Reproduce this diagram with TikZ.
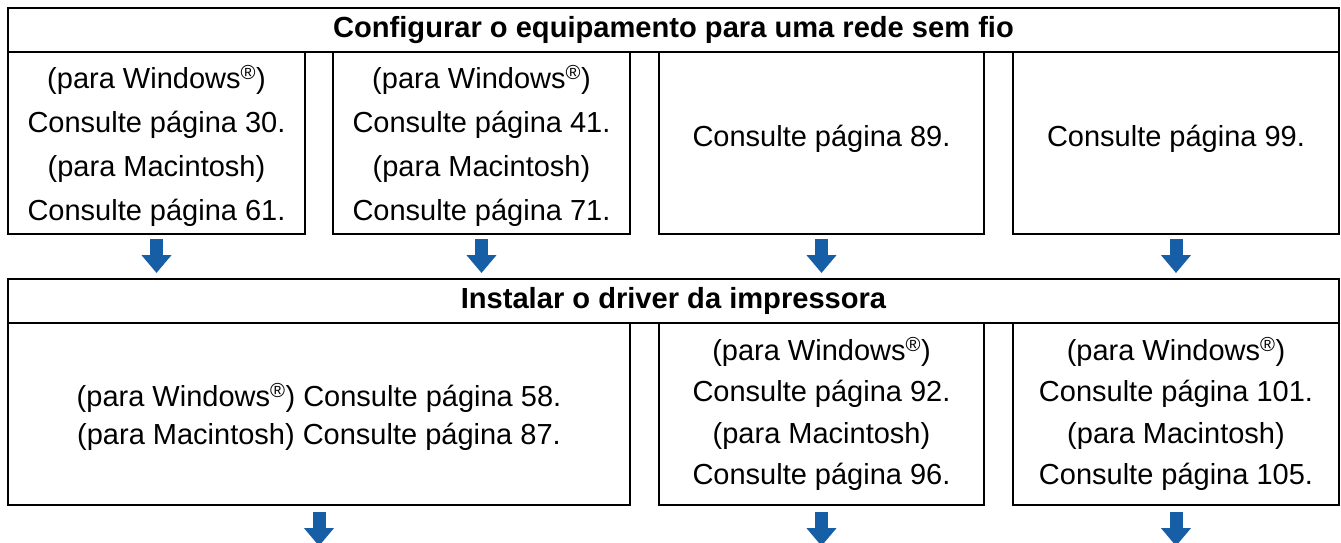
\documentclass[tikz,border=0pt]{standalone}
\usepackage{fontspec}
\setmainfont{Liberation Sans}
\usetikzlibrary{arrows.meta}
\definecolor{arrowblue}{RGB}{22,94,166}
\begin{document}
\begin{tikzpicture}[x=1pt,y=-1pt,
  box/.style={draw, line width=2.6pt, inner sep=0pt, outer sep=0pt, anchor=north west},
  head/.style={box, align=center, font=\bfseries\fontsize{29.1}{34}\selectfont},
  txt/.style={inner sep=0pt, align=center, font=\fontsize{29}{#1}\selectfont},
  txt/.default=44,
  flow/.style={draw=arrowblue, line width=13pt,
    -{Triangle[width=29pt,length=18pt]}}]
\fill[white] (0,0) rectangle (1341,542);
\useasboundingbox (0,0) rectangle (1341,542);
% headers
\node[head, minimum width=1331pt, minimum height=44pt] (h1) at (8,8)
  {Configurar o equipamento para uma rede sem fio};
\node[head, minimum width=1331pt, minimum height=44pt] (h2) at (8,279)
  {Instalar o driver da impressora};
% row 1 boxes
\node[box, minimum width=297pt, minimum height=182pt] (b1) at (8,52) {};
\node[box, minimum width=297pt, minimum height=182pt] (b2) at (333,52) {};
\node[box, minimum width=325pt, minimum height=182pt] (b3) at (659,52) {};
\node[box, minimum width=326pt, minimum height=182pt] (b4) at (1013,52) {};
% row 1 texts
\node[txt] (b1t) at ([yshift=-3pt]b1.center)
  {(para Windows\textsuperscript{®})\\Consulte página 30.\\(para Macintosh)\\Consulte página 61.};
\node[txt] (b2t) at ([yshift=-3pt]b2.center)
  {(para Windows\textsuperscript{®})\\Consulte página 41.\\(para Macintosh)\\Consulte página 71.};
\node[txt] (b3t) at ([yshift=4pt]b3.center) {Consulte página 89.};
\node[txt] (b4t) at ([yshift=4pt]b4.center) {Consulte página 99.};
% row 2 boxes
\node[box, minimum width=622pt, minimum height=182pt] (c1) at (8,323) {};
\node[box, minimum width=325pt, minimum height=182pt] (c2) at (659,323) {};
\node[box, minimum width=326pt, minimum height=182pt] (c3) at (1013,323) {};
% row 2 texts
\node[txt=38.5] (c1t) at ([yshift=-3pt]c1.center)
  {(para Windows\textsuperscript{®}) Consulte página 58.\\(para Macintosh) Consulte página 87.};
\node[txt=41.5] (c2t) at (c2.center)
  {(para Windows\textsuperscript{®})\\Consulte página 92.\\(para Macintosh)\\Consulte página 96.};
\node[txt=41.5] (c3t) at (c3.center)
  {(para Windows\textsuperscript{®})\\Consulte página 101.\\(para Macintosh)\\Consulte página 105.};
% arrows row 1 -> header 2
\foreach \b in {b1,b2,b3,b4}
  \draw[flow, shorten <=5pt, shorten >=6pt] (\b.south) -- (\b.south |- h2.north);
% arrows below row 2
\foreach \c in {c1,c2,c3} {
  \path (\c.south) ++(0,41) coordinate (\c-end);
  \draw[flow, shorten <=7pt] (\c.south) -- (\c-end);
}
\end{tikzpicture}
\end{document}
